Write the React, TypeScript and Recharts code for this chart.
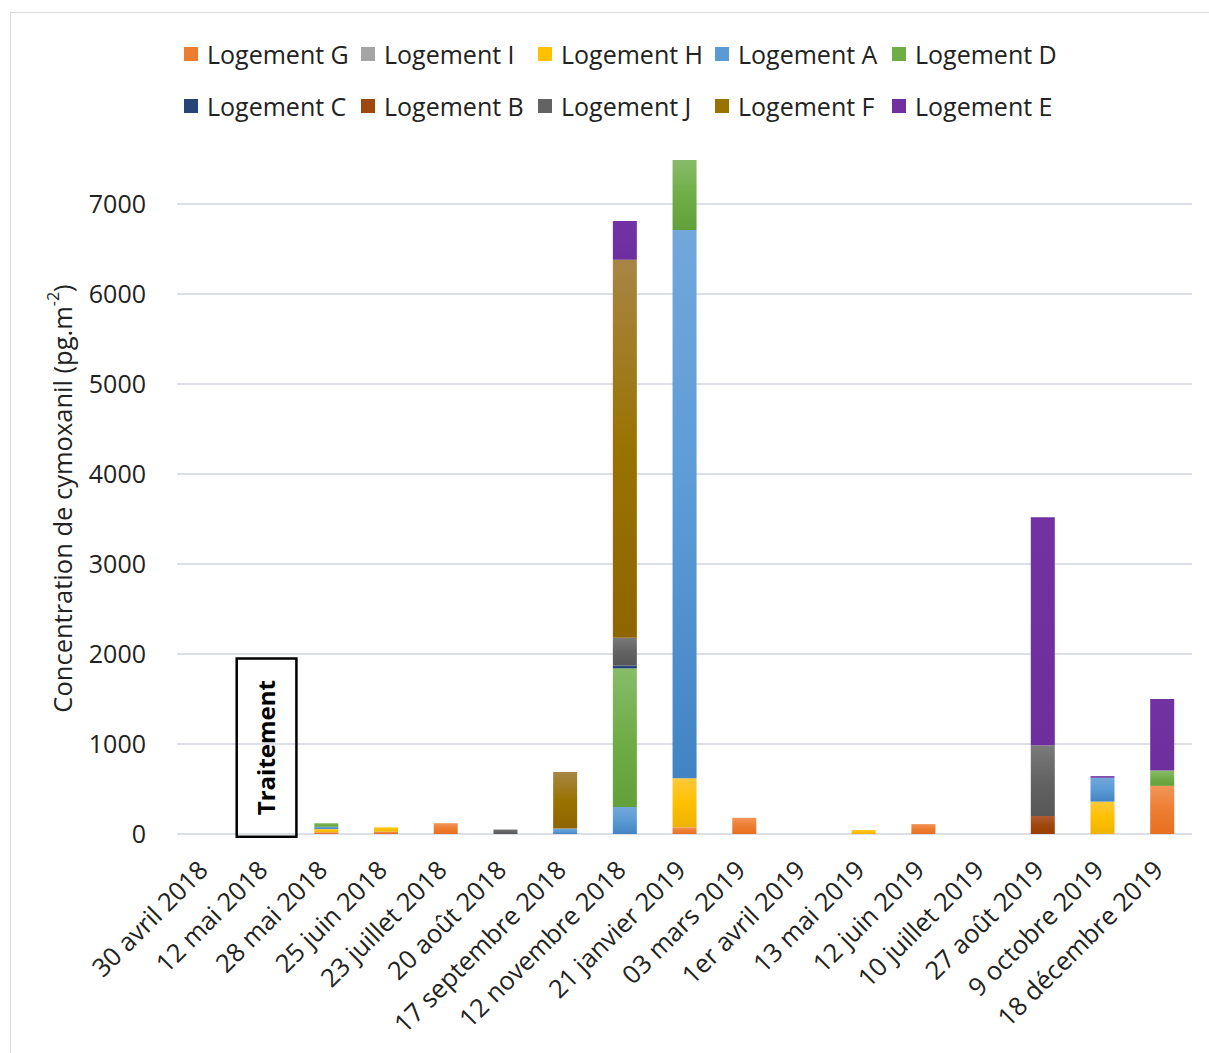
import React from 'react';
import { BarChart, Bar, XAxis, YAxis, CartesianGrid, Legend, ReferenceArea } from 'recharts';

const dates = [
    '30 avril 2018', '12 mai 2018', '28 mai 2018', '25 juin 2018', '23 juillet 2018',
    '20 août 2018', '17 septembre 2018', '12 novembre 2018', '21 janvier 2019', '03 mars 2019',
    '1er avril 2019', '13 mai 2019', '12 juin 2019', '10 juillet 2019', '27 août 2019',
    '9 octobre 2019', '18 décembre 2019',
];

// pg.m-2
const logementG = [0, 0, 20, 25, 120, 0, 0, 0, 75, 180, 0, 0, 110, 0, 0, 0, 535];
const logementI = [0, 0, 0, 0, 0, 0, 0, 0, 0, 0, 0, 0, 0, 0, 0, 0, 0];
const logementH = [0, 0, 35, 50, 0, 0, 0, 0, 545, 0, 0, 45, 0, 0, 0, 360, 0];
const logementA = [0, 0, 25, 0, 0, 0, 60, 300, 6090, 0, 0, 0, 0, 0, 0, 265, 0];
const logementD = [0, 0, 40, 0, 0, 0, 0, 1540, 780, 0, 0, 0, 0, 0, 0, 0, 170];
const logementC = [0, 0, 0, 0, 0, 0, 0, 30, 0, 0, 0, 0, 0, 0, 0, 0, 0];
const logementB = [0, 0, 0, 0, 0, 0, 0, 0, 0, 0, 0, 0, 0, 0, 200, 0, 0];
const logementJ = [0, 0, 0, 0, 0, 50, 0, 310, 0, 0, 0, 0, 0, 0, 785, 0, 0];
const logementF = [0, 0, 0, 0, 0, 0, 630, 4200, 0, 0, 0, 0, 0, 0, 0, 0, 0];
const logementE = [0, 0, 0, 0, 0, 0, 0, 430, 0, 0, 0, 0, 0, 0, 2535, 18, 795];

const yTicks = [0, 1000, 2000, 3000, 4000, 5000, 6000, 7000];

// name, values, base colour, gradient top, gradient bottom
const series = [
    { key: 'G', name: 'Logement G', values: logementG, color: '#ED7D31', top: '#F3955A', bottom: '#E86F1F' },
    { key: 'I', name: 'Logement I', values: logementI, color: '#A5A5A5', top: '#B5B5B5', bottom: '#969696' },
    { key: 'H', name: 'Logement H', values: logementH, color: '#FFC000', top: '#FFC93A', bottom: '#EDB300' },
    { key: 'A', name: 'Logement A', values: logementA, color: '#5B9BD5', top: '#72A7DB', bottom: '#4283C3' },
    { key: 'D', name: 'Logement D', values: logementD, color: '#70AD47', top: '#88BC69', bottom: '#62A03A' },
    { key: 'C', name: 'Logement C', values: logementC, color: '#264478', top: '#2F5496', bottom: '#203864' },
    { key: 'B', name: 'Logement B', values: logementB, color: '#9E480E', top: '#B05A33', bottom: '#983E00' },
    { key: 'J', name: 'Logement J', values: logementJ, color: '#636363', top: '#7A7A7A', bottom: '#575757' },
    { key: 'F', name: 'Logement F', values: logementF, color: '#997300', top: '#A88545', bottom: '#8E6500' },
    { key: 'E', name: 'Logement E', values: logementE, color: '#7030A0', top: '#7232A2', bottom: '#6E2E9E' },
];

const chartData = dates.map((d, i) => {
    const row: Record<string, string | number> = { date: d };
    series.forEach(s => { row[s.key] = s.values[i]; });
    return row;
});

const FONT = '"Open Sans", "Noto Sans", sans-serif';

const LegendContent = () => (
    <div style={{ display: 'grid', gridTemplateColumns: 'repeat(5, 177px)', fontFamily: FONT, fontSize: 25, color: '#222' }}>
        {series.map(s => (
            <div key={s.key} style={{ height: 52, display: 'flex', alignItems: 'center', whiteSpace: 'nowrap' }}>
                <span style={{ width: 14, height: 14, background: s.color, display: 'inline-block', marginRight: 9 }} />
                <span>{s.name}</span>
            </div>
        ))}
    </div>
);

const YLabel = (props: any) => {
    const vb = props.viewBox || {};
    const x = (vb.x || 0) + 51;
    const y = (vb.y || 0) + (vb.height || 0) / 2 + 2;
    return (
        <text x={x} y={y} transform={`rotate(-90, ${x}, ${y})`} textAnchor="middle" dominantBaseline="central"
            fontFamily={FONT} fontSize={25.5} fill="#222">
            Concentration de cymoxanil (pg.m
            <tspan dy={-9} fontSize={16}>-2</tspan>
            <tspan dy={9}>)</tspan>
        </text>
    );
};

export default function App() {
    return (
        <div style={{ position: 'absolute', left: 10, top: 12, width: 1220, height: 1060, border: '1px solid #D9D9D9', background: '#fff' }}>
            <BarChart width={1196} height={1036} data={chartData} barCategoryGap="30%"
                margin={{ top: 146, right: 15, left: 0, bottom: 0 }}>
                <defs>
                    {series.map(s => (
                        <linearGradient key={s.key} id={`grad-${s.key}`} x1="0" y1="0" x2="0" y2="1">
                            <stop offset="0%" stopColor={s.top} />
                            <stop offset="50%" stopColor={s.color} />
                            <stop offset="100%" stopColor={s.bottom} />
                        </linearGradient>
                    ))}
                </defs>
                <CartesianGrid vertical={false} stroke="#DCE0E6" strokeWidth={2} horizontalValues={yTicks} />
                <XAxis dataKey="date" interval={0} height={215} axisLine={false} tickLine={false} tickSize={0}
                    tickMargin={25} angle={-45} textAnchor="end"
                    tick={{ fontFamily: FONT, fontSize: 25.5, fill: '#222', dx: -10 }} />
                <YAxis width={166} domain={[0, 7500]} ticks={yTicks} allowDataOverflow axisLine={false} tickLine={false}
                    tickSize={0} tickMargin={31} tick={{ fontFamily: FONT, fontSize: 25, fill: '#222' }}
                    label={<YLabel />} />
                <Legend layout="horizontal" verticalAlign="middle" align="center" content={<LegendContent />}
                    wrapperStyle={{ top: 15, left: 173, width: 900, height: 104 }} />
                {series.map(s => (
                    <Bar key={s.key} dataKey={s.key} name={s.name} stackId="total" fill={`url(#grad-${s.key})`}
                        isAnimationActive={false} />
                ))}
                <ReferenceArea x1="12 mai 2018" x2="12 mai 2018" y1={-30} y2={1950} ifOverflow="visible"
                    fill="none" stroke="#000" strokeWidth={2.5} fillOpacity={0}
                    label={{ value: 'Traitement', angle: -90, position: 'center', fontFamily: FONT, fontSize: 24, fontWeight: 'bold', fill: '#000' }} />
            </BarChart>
        </div>
    );
}
